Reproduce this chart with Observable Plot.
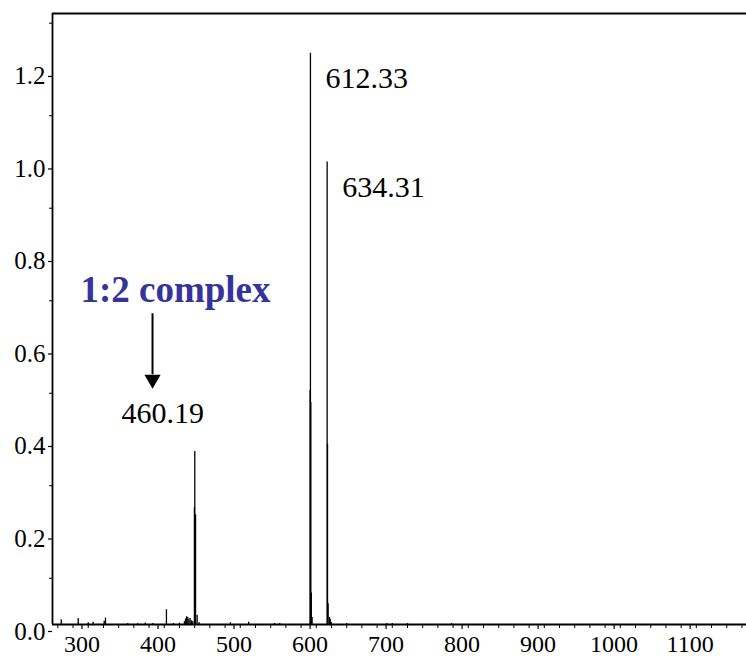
<!DOCTYPE html>
<html>
<head>
<meta charset="utf-8">
<script src="https://cdn.jsdelivr.net/npm/d3@7"></script>
<script src="https://cdn.jsdelivr.net/npm/@observablehq/plot@0.6"></script>
<style>
  html, body { margin: 0; padding: 0; background: #fff; }
  svg { display: block; }
</style>
</head>
<body>
<div id="chart"></div>
<script>
// m/z of each spectral line and its relative intensity
const mz = [
  284.5, 306.8, 320.0, 326.5, 341.0, 342.7, 372, 385, 395, 405, 422.9, 432, 440,
  446.5, 448.0, 449.5, 451.0, 452.5, 454.0, 456.0, 457.5,
  459.7, 460.19, 461.2, 463.3, 466, 507, 531,
  565, 572, 611.9, 612.33, 612.8, 613.5, 614.5,
  634.31, 634.8, 635.6, 637.5, 638.5, 640.0, 660, 713, 720, 740, 798
];
const intensity = [
  0.010, 0.013, 0.004, 0.005, 0.007, 0.014, 0.002, 0.002, 0.003, 0.002, 0.032, 0.002, 0.003,
  0.006, 0.012, 0.017, 0.015, 0.011, 0.013, 0.008, 0.006,
  0.252, 0.374, 0.237, 0.020, 0.004, 0.004, 0.005,
  0.002, 0.002, 0.506, 1.235, 0.480, 0.068, 0.015,
  1.000, 0.390, 0.045, 0.015, 0.010, 0.004, 0.002, 0.002, 0.002, 0.002, 0.002
];

// labelled peaks
const peakLabels = ["612.33", "634.31"];
const peakMz = [612.33, 634.31];
const peakTop = [1.235, 1.000];

const sideLabel = ["460.19"];
const sideMz = [460.19];
const sideTop = [0.374];

const complexLabel = ["1:2 complex"];

// axes
const xDomain = [273, 1186];
const yDomain = [0, 1.321];
const xMajorTicks = [300, 400, 500, 600, 700, 800, 900, 1000, 1100];
const xMinorTicks = d3.range(280, 1181, 20);
const yMajorTicks = [0.0, 0.2, 0.4, 0.6, 0.8, 1.0, 1.2];
const yMinorTicks = [0.1, 0.3, 0.5, 0.7, 0.9, 1.1, 1.3];

const peaks = mz.map((m, i) => ({mz: m, i: intensity[i]}));
const labelled = peakLabels.map((t, k) => ({label: t, mz: peakMz[k], i: peakTop[k]}));
const side = sideLabel.map((t, k) => ({label: t, mz: sideMz[k], i: sideTop[k]}));

// annotation anchor: arrow under the "1:2 complex" text, pointing at the 460.19 label
const arrowX = 404.6;
const complex = [{label: complexLabel[0], mz: 434.8, i: 0.722}];
const arrowShaft = [{mz: arrowX, y1: 0.672, y2: 0.540}];
const arrowHead = [{mz: arrowX, i: 0.530}];

const font = "Liberation Serif";

const chart = Plot.plot({
  width: 746,
  height: 656,
  marginLeft: 52,
  marginRight: 0,
  marginTop: 13,
  marginBottom: 32,
  style: {fontFamily: font, background: "#fff", color: "#000"},
  x: {domain: xDomain, label: null},
  y: {domain: yDomain, label: null},
  marks: [
    // minor ticks
    Plot.axisX({ticks: xMinorTicks, tickSize: 4, tickFormat: () => "", strokeWidth: 1, label: null}),
    Plot.axisX({ticks: xMajorTicks, tickSize: 5, tickPadding: 5, fontSize: 24, fontFamily: font, dx: 9, strokeWidth: 1.2, tickFormat: d => String(d), label: null}),
    Plot.axisY({ticks: yMinorTicks.filter(d => d < yDomain[1]), tickSize: 3, tickFormat: () => "", strokeWidth: 1, label: null}),
    Plot.axisY({ticks: yMajorTicks, tickSize: 4, tickPadding: 3, fontSize: 25, fontFamily: font, dy: 7, strokeWidth: 1.2, tickFormat: d3.format(".1f"), label: null}),
    // frame: left axis, bottom axis, top border
    Plot.ruleX([xDomain[0]], {stroke: "#000", strokeWidth: 1.8}),
    Plot.ruleY([0], {stroke: "#000", strokeWidth: 1.8}),
    Plot.ruleY([yDomain[1]], {stroke: "#000", strokeWidth: 2.2}),
    // spectrum
    Plot.ruleX(peaks, {x: "mz", y1: 0, y2: "i", stroke: "#000", strokeWidth: 1.3}),
    // peak labels
    Plot.text(labelled, {x: "mz", y: "i", text: "label", textAnchor: "start", dx: 15, dy: 25, fontSize: 30, fontFamily: font, fill: "#000"}),
    Plot.text(side, {x: "mz", y: "i", text: "label", textAnchor: "middle", dx: -32, dy: -38, fontSize: 30, fontFamily: font, fill: "#000"}),
    // annotation
    Plot.text(complex, {x: "mz", y: "i", text: "label", fontSize: 37, fontWeight: "bold", fontFamily: font, fill: "#34349a"}),
    Plot.ruleX(arrowShaft, {x: "mz", y1: "y1", y2: "y2", stroke: "#000", strokeWidth: 2}),
    Plot.dot(arrowHead, {x: "mz", y: "i", symbol: "triangle", rotate: 180, r: 6, fill: "#000", stroke: "none"})
  ]
});

document.getElementById("chart").appendChild(chart);
</script>
</body>
</html>
